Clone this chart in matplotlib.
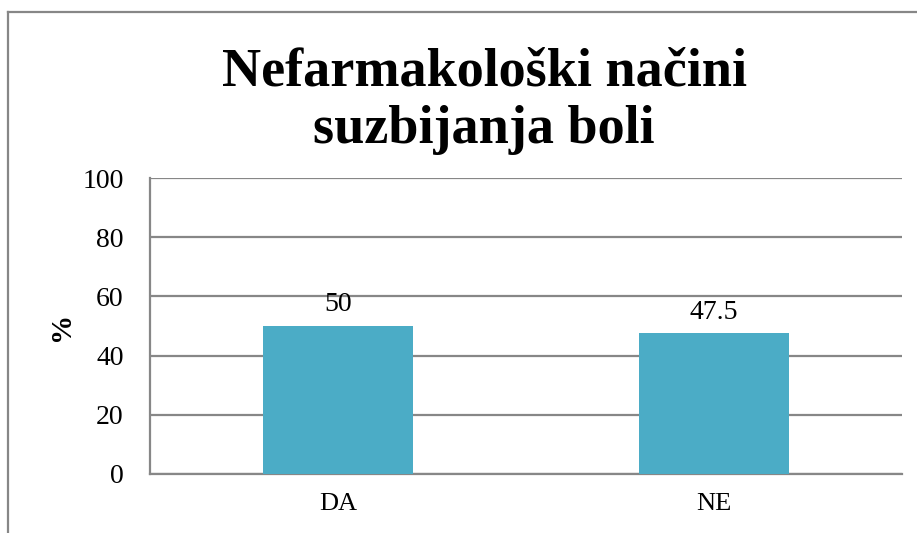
import matplotlib.pyplot as plt
from matplotlib.lines import Line2D

categories = ["DA", "NE"]
values = [50, 47.5]
value_labels = ["50", "47.5"]
yticks = [0, 20, 40, 60, 80, 100]

TITLE = "Nefarmakološki načini\nsuzbijanja boli"
BAR_COLOR = "#4BACC6"
GRID_COLOR = "#878787"

plt.rcParams["font.family"] = ["Liberation Serif", "DejaVu Serif"]

fig = plt.figure(figsize=(9.17, 5.33), dpi=100)
ax = fig.add_axes([0.1636, 0.1107, 0.8201, 0.5553])

x = list(range(len(categories)))
bars = ax.bar(x, values, width=0.4, color=BAR_COLOR, zorder=3)
ax.set_xlim(-0.5, 1.5)
ax.set_ylim(0, 100)
ax.set_yticks(yticks)
ax.set_yticklabels([str(t) for t in yticks], fontsize=20)
ax.set_xticks(x)
ax.set_xticklabels(categories, fontsize=19)
ax.tick_params(axis="y", length=0, pad=19)
ax.tick_params(axis="x", length=0, pad=14)
ax.yaxis.grid(True, color=GRID_COLOR, linewidth=1.6, zorder=0)
ax.set_axisbelow(True)
for side in ["top", "right"]:
    ax.spines[side].set_visible(False)
for side in ["left", "bottom"]:
    ax.spines[side].set_color(GRID_COLOR)
    ax.spines[side].set_linewidth(1.6)

for bar, lab in zip(bars, value_labels):
    ax.text(bar.get_x() + bar.get_width() / 2, bar.get_height() + 3, lab,
            ha="center", va="bottom", fontsize=20, zorder=4)

ax.set_ylabel("%", fontsize=21, fontweight="bold", labelpad=5)

fig.text(0.528, 0.81, TITLE, ha="center", va="center", fontsize=39,
         fontweight="bold", linespacing=1.22)

# outer chart frame (top and left edges visible)
fig.add_artist(Line2D([8 / 917, 1.0], [1 - 12 / 533, 1 - 12 / 533],
                      transform=fig.transFigure, color=GRID_COLOR, linewidth=1.6))
fig.add_artist(Line2D([8 / 917, 8 / 917], [0.0, 1 - 12 / 533],
                      transform=fig.transFigure, color=GRID_COLOR, linewidth=1.6))

fig.savefig("out.png", dpi=100)
